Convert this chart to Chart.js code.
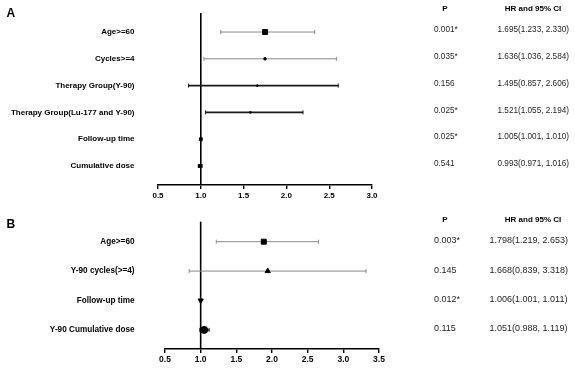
<!DOCTYPE html>
<html lang="en">
<head>
    <meta charset="UTF-8">
    <title>Forest plots</title>
    <script src="https://cdn.jsdelivr.net/npm/chart.js"></script>
    <style>
        body {
            margin: 0;
            background: #fff;
            font-family: "Liberation Sans", Arial, sans-serif;
        }
        .wrap {
            position: relative;
            width: 575px;
            height: 371px;
        }
        canvas {
            position: absolute;
            left: 0;
        }
        #chartA { top: 0; }
        #chartB { top: 205px; }
    </style>
</head>
<body>
<div class="wrap">
    <canvas id="chartA" width="575" height="205"></canvas>
    <canvas id="chartB" width="575" height="166"></canvas>
</div>
<script>
    // panel A
    const labelsA = ['Age>=60', 'Cycles>=4', 'Therapy Group(Y-90)', 'Therapy Group(Lu-177 and Y-90)', 'Follow-up time', 'Cumulative dose'];
    const hrA = [1.75, 1.75, 1.66, 1.58, 1.0, 0.99];
    const lowA = [1.233, 1.036, 0.857, 1.055, 1.001, 0.971];
    const highA = [2.330, 2.584, 2.606, 2.194, 1.010, 1.016];
    const pA = ['0.001*', '0.035*', '0.156', '0.025*', '0.025*', '0.541'];
    const ciA = ['1.695(1.233, 2.330)', '1.636(1.036, 2.584)', '1.495(0.857, 2.606)', '1.521(1.055, 2.194)', '1.005(1.001, 1.010)', '0.993(0.971, 1.016)'];
    const ticksA = [0.5, 1.0, 1.5, 2.0, 2.5, 3.0];

    // panel B
    const labelsB = ['Age>=60', 'Y-90 cycles(>=4)', 'Follow-up time', 'Y-90 Cumulative dose'];
    const hrB = [1.885, 1.94, 1.0, 1.05];
    const lowB = [1.219, 0.839, 1.001, 0.988];
    const highB = [2.653, 3.318, 1.011, 1.119];
    const pB = ['0.003*', '0.145', '0.012*', '0.115'];
    const ciB = ['1.798(1.219, 2.653)', '1.668(0.839, 3.318)', '1.006(1.001, 1.011)', '1.051(0.988, 1.119)'];
    const ticksB = [0.5, 1.0, 1.5, 2.0, 2.5, 3.0, 3.5];

    const refValue = 1.0;

    function makeForest(id, o) {
        const forestPlugin = {
            id: 'forest',
            beforeDatasetsDraw(chart) {
                const ctx = chart.ctx, xs = chart.scales.x, ys = chart.scales.y;
                const area = chart.chartArea;
                // reference line
                ctx.save();
                ctx.strokeStyle = '#000';
                ctx.lineWidth = 1.6;
                ctx.beginPath();
                ctx.moveTo(xs.getPixelForValue(refValue), area.top);
                ctx.lineTo(xs.getPixelForValue(refValue), area.bottom);
                ctx.stroke();
                // whiskers
                o.low.forEach((lo, i) => {
                    const y = ys.getPixelForValue(i);
                    const x1 = xs.getPixelForValue(lo), x2 = xs.getPixelForValue(o.high[i]);
                    ctx.strokeStyle = o.barColor[i];
                    ctx.lineWidth = o.barWidth[i];
                    ctx.beginPath();
                    ctx.moveTo(x1, y); ctx.lineTo(x2, y);
                    ctx.stroke();
                    ctx.lineWidth = 1;
                    ctx.beginPath();
                    ctx.moveTo(x1, y - 2); ctx.lineTo(x1, y + 2);
                    ctx.moveTo(x2, y - 2); ctx.lineTo(x2, y + 2);
                    ctx.stroke();
                });
                ctx.restore();
            },
            afterDraw(chart) {
                const ctx = chart.ctx, ys = chart.scales.y;
                ctx.save();
                ctx.fillStyle = '#000';
                ctx.textBaseline = 'alphabetic';
                ctx.textAlign = 'left';
                ctx.font = 'bold 12px "Liberation Sans", Arial';
                ctx.fillText(o.letter, 6.5, o.letterY);

                ctx.textBaseline = 'middle';
                ctx.textAlign = 'right';
                ctx.font = 'bold ' + o.labelSize + 'px "Liberation Sans", Arial';
                o.labels.forEach((t, i) => ctx.fillText(t, 134.5, ys.getPixelForValue(i)));

                ctx.textAlign = 'center';
                ctx.font = 'bold 8px "Liberation Sans", Arial';
                ctx.fillText('P', 445, o.headY);
                ctx.fillText('HR and 95% CI', 533, o.headY);

                ctx.textAlign = 'left';
                ctx.fillStyle = '#1e1e1e';
                ctx.font = o.valueSize + 'px "Liberation Sans", Arial';
                o.p.forEach((t, i) => {
                    const y = ys.getPixelForValue(i) + o.textShift;
                    ctx.fillText(t, 434, y);
                    ctx.fillText(o.ci[i], o.ciX, y);
                });
                ctx.restore();
            }
        };

        return new Chart(document.getElementById(id), {
            type: 'scatter',
            data: {
                datasets: [{
                    data: o.hr.map((v, i) => ({ x: v, y: i })),
                    pointStyle: o.style,
                    pointRadius: o.radius,
                    pointRotation: o.rotation,
                    backgroundColor: '#000',
                    borderColor: '#000',
                    borderWidth: 1
                }]
            },
            options: {
                responsive: false,
                animation: false,
                events: [],
                devicePixelRatio: 1,
                layout: { padding: { left: o.left, right: o.right, top: o.top, bottom: 0 } },
                plugins: { legend: { display: false }, tooltip: { enabled: false } },
                scales: {
                    x: {
                        type: 'linear',
                        min: o.ticks[0],
                        max: o.ticks[o.ticks.length - 1],
                        afterBuildTicks: s => { s.ticks = o.ticks.map(v => ({ value: v })); },
                        afterFit: s => { s.height = o.axisHeight; },
                        grid: { drawOnChartArea: false, drawTicks: true, tickLength: 4, color: '#000', lineWidth: 1.4 },
                        border: { display: true, color: '#000', width: 1.6 },
                        ticks: {
                            padding: 2,
                            color: '#000',
                            maxRotation: 0,
                            font: { family: '"Liberation Sans", Arial', size: o.tickSize, weight: 'bold' },
                            callback: v => Number(v).toFixed(1)
                        }
                    },
                    y: {
                        type: 'linear',
                        display: false,
                        reverse: true,
                        min: o.yMin,
                        max: o.yMax
                    }
                }
            },
            plugins: [forestPlugin]
        });
    }

    makeForest('chartA', {
        letter: 'A', letterY: 17, headY: 9,
        labels: labelsA, hr: hrA, low: lowA, high: highA, p: pA, ci: ciA, ticks: ticksA,
        style: ['rect', 'rect', 'rect', 'rect', 'rect', 'rect'],
        radius: [3.5, 1.5, 1, 1, 2, 2],
        rotation: [0, 0, 0, 0, 0, 0],
        barColor: ['#8a8a8a', '#8a8a8a', '#1a1a1a', '#1a1a1a', '#1a1a1a', '#1a1a1a'],
        barWidth: [1, 1, 1.6, 1.6, 1.4, 1.4],
        left: 158, right: 203, top: 13, axisHeight: 20,
        yMin: -0.71, yMax: 5.71,
        labelSize: 8, valueSize: 8.2, tickSize: 8, ciX: 497.5, textShift: -2
    });

    makeForest('chartB', {
        letter: 'B', letterY: 22.5, headY: 15,
        labels: labelsB, hr: hrB, low: lowB, high: highB, p: pB, ci: ciB, ticks: ticksB,
        style: ['rect', 'triangle', 'triangle', 'circle'],
        radius: [3.5, 3, 3, 3.5],
        rotation: [0, 0, 180, 0],
        barColor: ['#8a8a8a', '#8a8a8a', '#8a8a8a', '#1a1a1a'],
        barWidth: [1, 1, 1, 1.4],
        left: 165, right: 196, top: 16.7, axisHeight: 22,
        yMin: -0.68, yMax: 3.65,
        labelSize: 8.2, valueSize: 9, tickSize: 8.5, ciX: 489.5, textShift: -1
    });
</script>
</body>
</html>
